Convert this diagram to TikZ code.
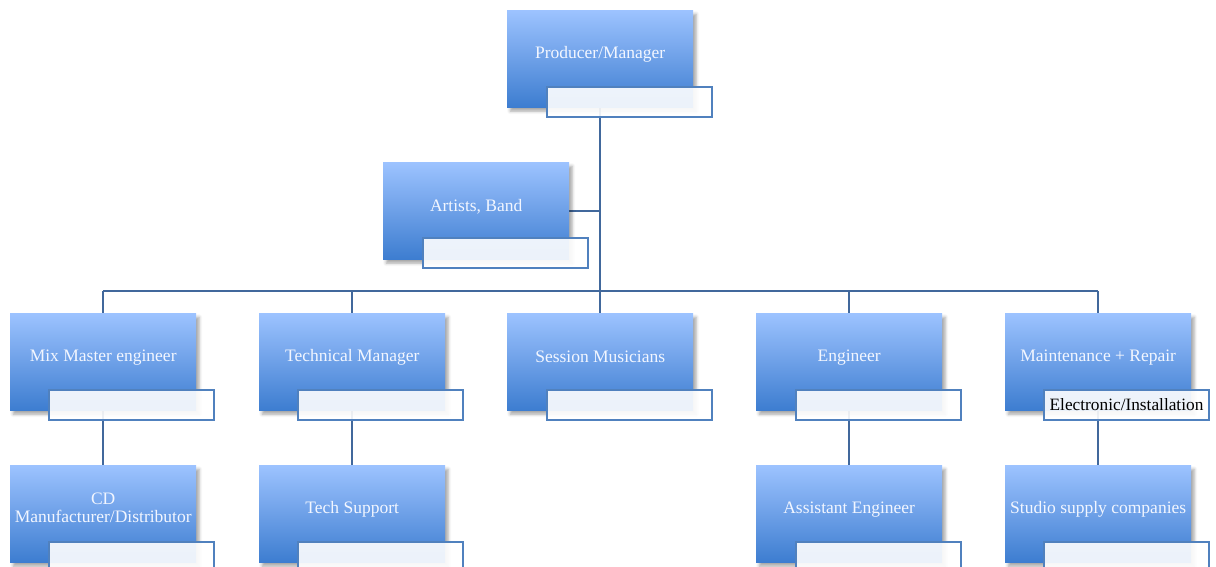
\documentclass[tikz,border=0pt]{standalone}
\usepackage{fontspec}
\setmainfont{Liberation Serif}
\usetikzlibrary{shadows.blur}

\definecolor{boxtop}{HTML}{9DC3FF}
\definecolor{boxbot}{HTML}{3D7DD0}
\definecolor{linkblue}{HTML}{41689C}
\definecolor{subedge}{HTML}{5081BE}
\definecolor{labelwhite}{HTML}{F2F6FF}

\pgfdeclarelayer{background}
\pgfsetlayers{background,main}

\tikzset{
  rolebox/.style={draw=none, top color=boxtop, bottom color=boxbot,
    minimum width=186pt, minimum height=97pt, inner sep=0pt, anchor=north west,
    blur shadow={shadow xshift=3pt, shadow yshift=-4pt, shadow blur radius=3pt, shadow opacity=35}},
  subbox/.style={draw=subedge, line width=2pt, fill=white, fill opacity=0.9, text opacity=1,
    minimum width=165pt, minimum height=30pt, inner sep=0pt, anchor=north west,
    font=\fontsize{17.3}{20}\selectfont, text=black},
  roletext/.style={text=labelwhite, font=\fontsize{17.5}{17.5}\selectfont, align=center, inner sep=0pt},
  link/.style={draw=linkblue, line width=2pt}
}

\begin{document}
\begin{tikzpicture}[x=1pt,y=1pt]
\useasboundingbox (0,0) rectangle (1216,-566);

% top of the chart
\node[rolebox] (pm) at (507,-10) {};
\node[roletext] (pmt) at ([yshift=4pt]pm.center) {Producer/Manager};
\node[subbox] (pms) at (546,-86) {};

\node[rolebox] (ab) at (383,-162) {};
\node[roletext] (abt) at ([yshift=4pt]ab.center) {Artists, Band};
\node[subbox] (abs) at (422,-237) {};

% second row
\node[rolebox] (mix) at (10,-313) {};
\node[roletext] (mixt) at ([yshift=4pt]mix.center) {Mix Master engineer};
\node[subbox] (mixs) at (48,-389) {};

\node[rolebox] (tm) at (259,-313) {};
\node[roletext] (tmt) at ([yshift=4pt]tm.center) {Technical Manager};
\node[subbox] (tms) at (297,-389) {};

\node[rolebox] (sm) at (507,-313) {};
\node[roletext] (smt) at ([yshift=5pt]sm.center) {Session Musicians};
\node[subbox] (sms) at (546,-389) {};

\node[rolebox] (eng) at (756,-313) {};
\node[roletext] (engt) at ([yshift=4pt]eng.center) {Engineer};
\node[subbox] (engs) at (795,-389) {};

\node[rolebox] (mr) at (1005,-313) {};
\node[roletext] (mrt) at ([yshift=4pt]mr.center) {Maintenance + Repair};
\node[subbox] (mrs) at (1043,-389) {Electronic/Installation};

% third row
\node[rolebox] (cd) at (10,-465) {};
\node[roletext] (cdt) at ([yshift=6pt]cd.center) {CD\\Manufacturer/Distributor};
\node[subbox] (cds) at (48,-541) {};

\node[rolebox] (ts) at (259,-465) {};
\node[roletext] (tst) at ([yshift=4pt]ts.center) {Tech Support};
\node[subbox] (tss) at (297,-541) {};

\node[rolebox] (ae) at (756,-465) {};
\node[roletext] (aet) at ([yshift=4pt]ae.center) {Assistant Engineer};
\node[subbox] (aes) at (795,-541) {};

\node[rolebox] (ssc) at (1005,-465) {};
\node[roletext] (ssct) at ([yshift=4pt]ssc.center) {Studio supply companies};
\node[subbox] (sscs) at (1043,-541) {};

\coordinate (bus) at (0,-291);

% connectors, drawn beneath the boxes
\begin{pgfonlayer}{background}
  \draw[link] (pm.south) -- (pm.south |- bus);
  \draw[link] (ab.east) -- (ab.east -| pm.south);
  \draw[link] (mix.north |- bus) -- (mr.north |- bus);
  \foreach \b in {mix,tm,sm,eng,mr}
    \draw[link] (\b.north) -- (\b.north |- bus);
  \draw[link] (mix.south) -- (cd.north);
  \draw[link] (tm.south) -- (ts.north);
  \draw[link] (eng.south) -- (ae.north);
  \draw[link] (mr.south) -- (ssc.north);
\end{pgfonlayer}
\end{tikzpicture}
\end{document}
